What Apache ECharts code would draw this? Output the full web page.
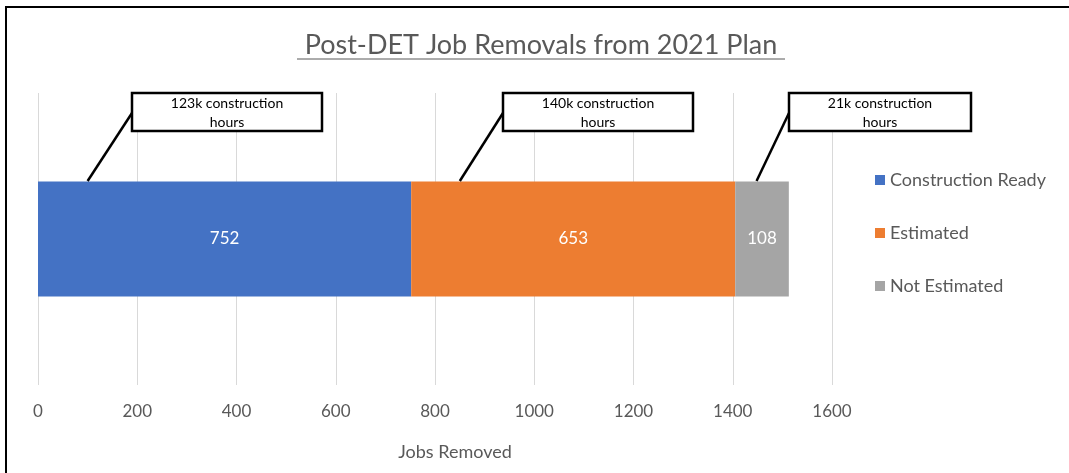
<!DOCTYPE html>
<html>
<head>
<meta charset="utf-8">
<script src="https://cdn.jsdelivr.net/npm/echarts@6/dist/echarts.min.js"></script>
<style>
html,body{margin:0;padding:0;background:#fff;}
#chart{width:1069px;height:473px;}
</style>
</head>
<body>
<div id="chart"></div>
<script>
const categories = ['Jobs'];
const seriesNames = ['Construction Ready', 'Estimated', 'Not Estimated'];
const constructionReady = [752];
const estimated = [653];
const notEstimated = [108];
const callouts = ['123k construction\nhours', '140k construction\nhours', '21k construction\nhours'];
const calloutAnchors = [100, 850, 1448];
const xTicks = [0, 200, 400, 600, 800, 1000, 1200, 1400, 1600];
const titleText = 'Post-DET Job Removals from 2021 Plan';
const axisTitle = 'Jobs Removed';

const colors = ['#4472C4', '#ED7D31', '#A5A5A5'];
const FONT = 'Lato, "Open Sans", sans-serif';

const chart = echarts.init(document.getElementById('chart'));

function barSeries(name, data, color) {
  return {
    name: name,
    type: 'bar',
    stack: 'total',
    data: data,
    barWidth: 115,
    itemStyle: { color: color },
    label: {
      show: true,
      position: 'inside',
      color: '#ffffff',
      fontSize: 17,
      fontFamily: FONT
    }
  };
}

const option = {
  animation: false,
  backgroundColor: '#ffffff',
  grid: { left: 38, right: 237, top: 93, height: 292 },
  legend: {
    orient: 'vertical',
    left: 870,
    top: 165,
    icon: 'rect',
    itemWidth: 10,
    itemHeight: 10,
    itemGap: 33,
    data: seriesNames,
    textStyle: { fontFamily: FONT, fontSize: 18, color: '#595959', lineHeight: 20 }
  },
  xAxis: {
    type: 'value',
    min: xTicks[0],
    max: xTicks[xTicks.length - 1],
    interval: xTicks[1] - xTicks[0],
    axisLine: { show: false },
    axisTick: { show: false },
    splitLine: { lineStyle: { color: '#D9D9D9', width: 1 } },
    axisLabel: { color: '#595959', fontFamily: FONT, fontSize: 17, margin: 18, formatter: function (v) { return String(v); } }
  },
  yAxis: {
    type: 'category',
    data: categories,
    show: false
  },
  series: [
    barSeries(seriesNames[0], constructionReady, colors[0]),
    barSeries(seriesNames[1], estimated, colors[1]),
    barSeries(seriesNames[2], notEstimated, colors[2])
  ]
};
chart.setOption(option);

const boxes = [
  { x: 132, w: 190 },
  { x: 503, w: 190 },
  { x: 789, w: 182 }
];
const boxTop = 93, boxH = 38;
const barTopY = 181;
const graphics = [];
graphics.push({ type: 'text', x: 541, y: 45, style: { text: titleText, align: 'center', verticalAlign: 'middle', fontFamily: FONT, fontSize: 27, fill: '#595959' } });
graphics.push({ type: 'line', shape: { x1: 297, y1: 59, x2: 785, y2: 59 }, style: { stroke: '#595959', lineWidth: 1 } });
graphics.push({ type: 'polyline', shape: { points: [[6, 480], [6, 7], [1075, 7]] }, style: { stroke: '#000', lineWidth: 2, fill: null } });
callouts.forEach(function (txt, i) {
  const px = chart.convertToPixel({ xAxisIndex: 0 }, calloutAnchors[i]);
  const b = boxes[i];
  graphics.push({ type: 'line', shape: { x1: b.x, y1: boxTop + 20, x2: px, y2: barTopY }, style: { stroke: '#000', lineWidth: 2.5 }, z: 10 });
  graphics.push({ type: 'rect', shape: { x: b.x, y: boxTop, width: b.w, height: boxH }, style: { fill: '#fff', stroke: '#000', lineWidth: 2.5 }, z: 11 });
  graphics.push({ type: 'text', x: b.x + b.w / 2, y: boxTop + boxH / 2 + 1, style: { text: txt, align: 'center', verticalAlign: 'middle', fontFamily: FONT, fontSize: 14, lineHeight: 19, fill: '#000' }, z: 12 });
});
graphics.push({ type: 'text', x: 455, y: 452, style: { text: axisTitle, align: 'center', verticalAlign: 'middle', fontFamily: FONT, fontSize: 18, fill: '#595959' } });
chart.setOption({ graphic: graphics });
</script>
</body>
</html>
